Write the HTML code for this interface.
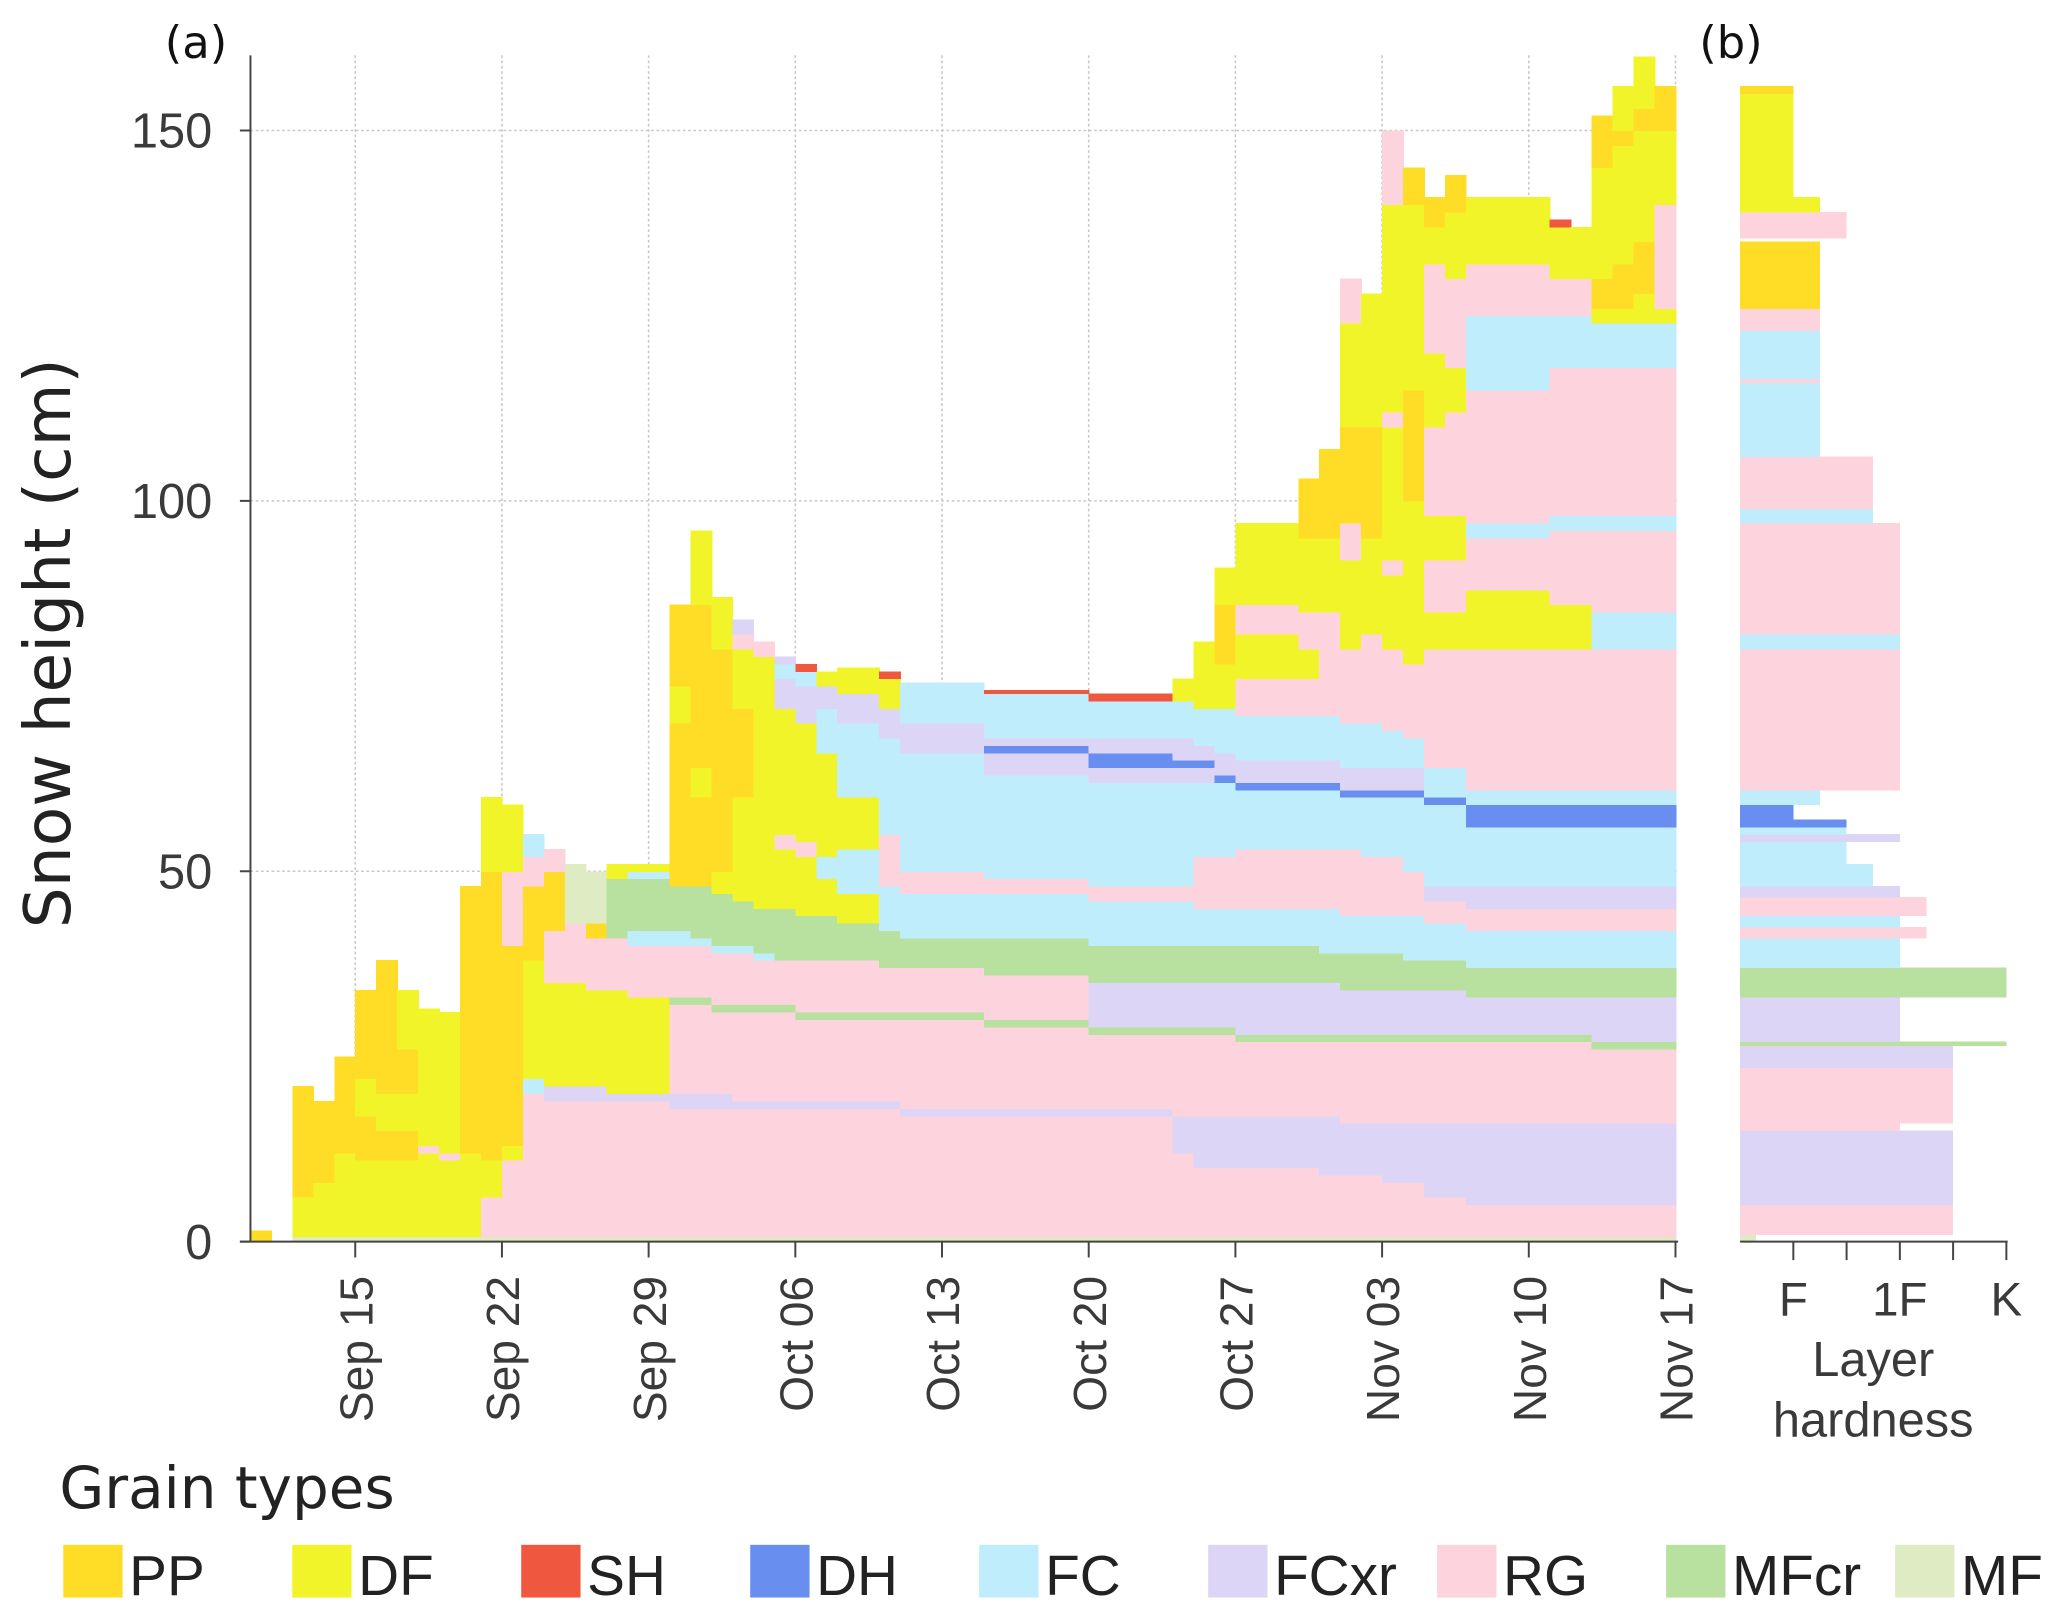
<!DOCTYPE html>
<html><head><meta charset="utf-8"><style>
html,body{margin:0;padding:0;background:#fff;}
svg{display:block;font-family:"Liberation Sans","DejaVu Sans",sans-serif;}
</style></head><body>
<svg id="chart" width="2067" height="1616" viewBox="0 0 1568 1226" preserveAspectRatio="none" xmlns="http://www.w3.org/2000/svg">
<g id="plotA"></g>
<g id="plotB"></g>
<g id="axes"></g>
<g id="legend"></g>
</svg>
<script>
const grainTypes = ["PP","DF","SH","DH","FC","FCxr","RG","MFcr","MF"];
const grainColors = ["#ffdc26","#f1f428","#f0573f","#688ef0","#bfedfb","#ddd5f5","#fdd3dd","#b8e1a0","#dfecc3"];
const dateLabels = ["Sep 15","Sep 22","Sep 29","Oct 06","Oct 13","Oct 20","Oct 27","Nov 03","Nov 10","Nov 17"];
const dateDays = [5,12,19,26,33,40,47,54,61,68];
const yTicks = [0,50,100,150];
const colStart = [0,2,3,4,5,6,7,8,9,10,11,12,13,14,15,16,17,18,20,21,22,23,24,25,26,27,28,30,31,35,40,44,45,46,47,50,51,52,53,54,55,56,57,58,62,63,64,65,66,67];
const colEnd   = [1,3,4,5,6,7,8,9,10,11,12,13,14,15,16,17,18,20,21,22,23,24,25,26,27,28,30,31,35,40,44,45,46,47,50,51,52,53,54,55,56,57,58,62,63,64,65,66,67,68];
const profiles = [
"PP:1.5",
"DF:6,PP:21",
"DF:8,PP:19",
"DF:12,PP:25",
"DF:11,PP:17,DF:22,PP:34",
"DF:11,PP:15,DF:20,PP:38",
"DF:11,PP:15,DF:20,PP:26,DF:34",
"DF:12,RG:13,DF:31.5",
"DF:11,RG:12,DF:31",
"DF:12,PP:48",
"RG:6,DF:11,PP:50,DF:60",
"RG:11,DF:13,PP:40,RG:50,DF:59",
"RG:20,FC:22,DF:38,PP:48,RG:52,FC:55",
"RG:19,FCxr:21,DF:35,RG:42,PP:50,RG:53",
"RG:19,FCxr:21,DF:35,RG:43,MF:51",
"RG:19,FCxr:21,DF:34,RG:41,PP:43,MF:50",
"RG:19,FCxr:20,DF:34,RG:41,MFcr:49,DF:51",
"RG:19,FCxr:20,DF:33,RG:40,FC:42,MFcr:49,FC:50,DF:51",
"RG:18,FCxr:20,RG:32,MFcr:33,RG:40,FC:42,MFcr:48,PP:70,DF:75,PP:86",
"RG:18,FCxr:20,RG:32,MFcr:33,RG:40,FC:41,MFcr:48,PP:60,DF:64,PP:86,DF:96",
"RG:18,FCxr:20,RG:31,MFcr:32,RG:39,FC:40,MFcr:47,DF:50,PP:80,DF:87",
"RG:18,FCxr:19,RG:31,MFcr:32,RG:39,FC:40,MFcr:46,DF:60,PP:72,DF:80,RG:82,FCxr:84",
"RG:18,FCxr:19,RG:31,MFcr:32,RG:38,FC:39,MFcr:45,DF:79,RG:81",
"RG:18,FCxr:19,RG:31,MFcr:32,RG:38,MFcr:45,DF:53,RG:55,DF:72,FCxr:76,FC:78,FCxr:79",
"RG:18,FCxr:19,RG:30,MFcr:31,RG:38,MFcr:44,DF:52,RG:54,DF:70,FCxr:75,FC:77,SH:78",
"RG:18,FCxr:19,RG:30,MFcr:31,RG:38,MFcr:44,DF:49,FC:52,DF:66,FC:72,FCxr:75,DF:77",
"RG:18,FCxr:19,RG:30,MFcr:31,RG:38,MFcr:43,DF:47,FC:53,DF:60,FC:70,FCxr:74,DF:77.5",
"RG:18,FCxr:19,RG:30,MFcr:31,RG:37,MFcr:42,FC:48,RG:55,FC:68,FCxr:72,DF:76,SH:77",
"RG:17,FCxr:18,RG:30,MFcr:31,RG:37,MFcr:41,FC:47,RG:50,FC:66,FCxr:70,FC:75.5",
"RG:17,FCxr:18,RG:29,MFcr:30,RG:36,MFcr:41,FC:47,RG:49,FC:63,FCxr:66,DH:67,FCxr:68,FC:74,SH:74.5",
"RG:17,FCxr:18,RG:28,MFcr:29,FCxr:35,MFcr:40,FC:46,RG:48,FC:62,FCxr:64,DH:66,FCxr:68,FC:73,SH:74",
"RG:12,FCxr:17,RG:28,MFcr:29,FCxr:35,MFcr:40,FC:46,RG:48,FC:62,FCxr:64,DH:65,FCxr:68,FC:73,DF:76",
"RG:10,FCxr:17,RG:28,MFcr:29,FCxr:35,MFcr:40,FC:45,RG:52,FC:62,FCxr:64,DH:65,FCxr:67,FC:72,DF:81",
"RG:10,FCxr:17,RG:28,MFcr:29,FCxr:35,MFcr:40,FC:45,RG:52,FC:62,DH:63,FCxr:66,FC:72,DF:78,PP:86,DF:91",
"RG:10,FCxr:17,RG:27,MFcr:28,FCxr:35,MFcr:40,FC:45,RG:53,FC:61,DH:62,FCxr:65,FC:71,RG:76,DF:82,RG:86,DF:97",
"RG:10,FCxr:17,RG:27,MFcr:28,FCxr:35,MFcr:40,FC:45,RG:53,FC:61,DH:62,FCxr:65,FC:71,RG:76,DF:80,RG:85,DF:95,PP:103",
"RG:9,FCxr:17,RG:27,MFcr:28,FCxr:35,MFcr:39,FC:45,RG:53,FC:61,DH:62,FCxr:65,FC:71,RG:78,RG:85,DF:95,PP:107",
"RG:9,FCxr:16,RG:27,MFcr:28,FCxr:34,MFcr:39,FC:44,RG:53,FC:60,DH:61,FCxr:64,FC:70,RG:80,DF:92,RG:97,PP:110,DF:124,RG:130",
"RG:9,FCxr:16,RG:27,MFcr:28,FCxr:34,MFcr:39,FC:44,RG:52,FC:60,DH:61,FCxr:64,FC:70,RG:82,DF:95,PP:110,DF:128",
"RG:8,FCxr:16,RG:27,MFcr:28,FCxr:34,MFcr:39,FC:44,RG:52,FC:60,DH:61,FCxr:64,FC:69,RG:80,DF:90,RG:92,DF:110,RG:112,DF:140,RG:150",
"RG:8,FCxr:16,RG:27,MFcr:28,FCxr:34,MFcr:38,FC:44,RG:50,FC:60,DH:61,FCxr:64,FC:68,RG:78,DF:100,PP:115,DF:140,PP:145",
"RG:6,FCxr:16,RG:27,MFcr:28,FCxr:34,MFcr:38,FC:43,RG:46,FCxr:48,FC:59,DH:60,FC:64,RG:80,DF:85,RG:92,DF:98,RG:110,DF:120,RG:132,DF:137,PP:141",
"RG:6,FCxr:16,RG:27,MFcr:28,FCxr:34,MFcr:38,FC:43,RG:46,FCxr:48,FC:59,DH:60,FC:64,RG:80,DF:85,RG:92,DF:98,RG:112,DF:118,RG:130,DF:139,PP:144",
"RG:5,FCxr:16,RG:27,MFcr:28,FCxr:33,MFcr:37,FC:42,RG:45,FCxr:48,FC:56,DH:59,FC:61,RG:80,DF:88,RG:95,FC:97,RG:115,FC:125,RG:132,DF:141",
"RG:5,FCxr:16,RG:27,MFcr:28,FCxr:33,MFcr:37,FC:42,RG:45,FCxr:48,FC:56,DH:59,FC:61,RG:80,DF:86,RG:96,FC:98,RG:118,FC:125,RG:130,DF:137,SH:138",
"RG:5,FCxr:16,RG:27,MFcr:28,FCxr:33,MFcr:37,FC:42,RG:45,FCxr:48,FC:56,DH:59,FC:61,RG:80,DF:86,RG:96,FC:98,RG:118,FC:125,RG:130,DF:137",
"RG:5,FCxr:16,RG:26,MFcr:27,FCxr:33,MFcr:37,FC:42,RG:45,FCxr:48,FC:56,DH:59,FC:61,RG:80,FC:85,RG:96,FC:98,RG:118,FC:124,DF:126,PP:130,DF:145,PP:152",
"RG:5,FCxr:16,RG:26,MFcr:27,FCxr:33,MFcr:37,FC:42,RG:45,FCxr:48,FC:56,DH:59,FC:61,RG:80,FC:85,RG:96,FC:98,RG:118,FC:124,DF:126,PP:132,DF:148,PP:150,DF:156",
"RG:5,FCxr:16,RG:26,MFcr:27,FCxr:33,MFcr:37,FC:42,RG:45,FCxr:48,FC:56,DH:59,FC:61,RG:80,FC:85,RG:96,FC:98,RG:118,FC:124,DF:128,PP:135,DF:150,PP:153,DF:160",
"RG:5,FCxr:16,RG:26,MFcr:27,FCxr:33,MFcr:37,FC:42,RG:45,FCxr:48,FC:56,DH:59,FC:61,RG:80,FC:85,RG:96,FC:98,RG:118,FC:124,DF:126,RG:140,DF:150,PP:156"
];
// panel b: type, bottom, top, hardness index (0..5)
const hardType = ["MF","RG","FCxr","RG","RG","FCxr","MFcr","FCxr","MFcr","FC","RG","FC","RG","FCxr","FC","FC","FCxr","FC","DH","DH","FC","RG","FC","RG","FC","RG","RG","FC","RG","RG","FC","RG","PP","RG","DF","DF","PP"];
const hardBot  = [0,1,5,15,16,23.5,26.5,27,33,37,41,42.5,44,46.5,48,51,54,55,56,57,59,61,80,82,97,99,100,106,116,123,116.5,123,126,135.5,139,141,155];
const hardTop  = [1,5,15,16,23.5,26.5,27,33,37,41,42.5,44,46.5,48,51,54,55,56,57,59,61,80,82,97,99,100,106,116,116.5,126,123,126,135,139,141,155,156];
const hardVal  = [0.3,4,4,3,4,4,5,3,5,3,3.5,3,3.5,3,2.5,2,3,2,2,1,1.5,3,3,3,2.5,2.5,2.5,1.5,1.5,1.5,1.5,1.5,1.5,2,1.5,1,1];
const hardTicks = [1,2,3,4,5];
const hardLabels = ["F","","1F","","K"];
const legendNames = grainTypes;

const NS="http://www.w3.org/2000/svg";
function mk(tag, attrs, parent){const e=document.createElementNS(NS,tag);for(const k in attrs)e.setAttribute(k,attrs[k]);parent.appendChild(e);return e;}
const X0=190, DAYW=(1271-190)/68, Y0=942, CM=(942-99)/150;
const xDay = d => X0 + d*DAYW;
const yCm = h => Y0 - h*CM;
const BX0=1320, HW=(1522-1320)/5;
const xHard = v => BX0 + v*HW;
const colorOf = t => grainColors[grainTypes.indexOf(t)];

const gA=document.getElementById('plotA'), gB=document.getElementById('plotB'), gX=document.getElementById('axes'), gL=document.getElementById('legend');

for (let i=0;i<yTicks.length;i++){ if(yTicks[i]===0) continue;
  const l=mk('line',{x1:X0,x2:1272,y1:yCm(yTicks[i]),y2:yCm(yTicks[i]),stroke:'#c8c8c8','stroke-width':1.2,'stroke-dasharray':'2,2'},gA);
  
  
}
for (let i=0;i<dateDays.length;i++){
  const l=mk('line',{x1:xDay(dateDays[i]),x2:xDay(dateDays[i]),y1:42,y2:Y0,stroke:'#c8c8c8','stroke-width':1.2,'stroke-dasharray':'2,2'},gA);
  
  
}
for (let c=0;c<profiles.length;c++){
  let bot=0;
  const segs=profiles[c].split(',');
  for (const s of segs){
    const [t,v]=s.split(':'); const top=parseFloat(v);
    if(top>bot){
      const r=mk('rect',{x:xDay(colStart[c]),y:yCm(top),width:xDay(colEnd[c])-xDay(colStart[c])+0.6,height:(top-bot)*CM+0.4,fill:colorOf(t),'shape-rendering':'crispEdges'},gA);
      
      
    }
    bot=Math.max(bot,top);
  }
}
const gs=mk('rect',{x:xDay(2),y:yCm(0.6),width:xDay(68)-xDay(2),height:0.6*CM,fill:colorOf('MF')},gA);



for (let i=0;i<hardType.length;i++){
  const r=mk('rect',{x:BX0,y:yCm(hardTop[i]),width:xHard(hardVal[i])-BX0,height:(hardTop[i]-hardBot[i])*CM+0.4,fill:colorOf(hardType[i]),'shape-rendering':'crispEdges'},gB);
  
  
}

const ya=mk('line',{x1:X0,x2:X0,y1:42,y2:Y0,stroke:'#444','stroke-width':1.5},gX);


const xa=mk('line',{x1:X0-8,x2:1273,y1:Y0,y2:Y0,stroke:'#444','stroke-width':1.5},gX);


for (let i=0;i<yTicks.length;i++){
  const tk=mk('line',{x1:X0-8,x2:X0,y1:yCm(yTicks[i]),y2:yCm(yTicks[i]),stroke:'#444','stroke-width':1.5},gX);
  
  
  const t=mk('text',{x:X0-29,y:yCm(yTicks[i])+13,'text-anchor':'end','font-size':37,fill:'#3a3a3a'},gX);
  t.textContent=yTicks[i];
  
  
}
for (let i=0;i<dateDays.length;i++){
  const x=xDay(dateDays[i]);
  const tk=mk('line',{x1:x,x2:x,y1:Y0,y2:Y0+12,stroke:'#444','stroke-width':1.5},gX);
  
  
  const t=mk('text',{x:0,y:0,'text-anchor':'end','font-size':35,fill:'#3a3a3a',transform:`translate(${x+13},968) rotate(-90)`},gX);
  t.textContent=dateLabels[i];
  
  
}
const yl=mk('text',{x:0,y:0,'text-anchor':'middle','font-size':49,fill:'#222','font-family':'DejaVu Sans, sans-serif',transform:'translate(53,488) rotate(-90)'},gX);
yl.textContent='Snow height (cm)';


const pa=mk('text',{x:125,y:44,'font-size':34,fill:'#111','font-family':'DejaVu Sans, sans-serif'},gX);
pa.textContent='(a)';


const pb=mk('text',{x:1289,y:44,'font-size':34,fill:'#111','font-family':'DejaVu Sans, sans-serif'},gX);
pb.textContent='(b)';


const bx=mk('line',{x1:BX0,x2:1523,y1:Y0,y2:Y0,stroke:'#444','stroke-width':1.5},gX);


for (let i=0;i<hardTicks.length;i++){
  const x=xHard(hardTicks[i]);
  const tk=mk('line',{x1:x,x2:x,y1:Y0,y2:Y0+14,stroke:'#444','stroke-width':1.5},gX);
  
  
  if(hardLabels[i]){
    const t=mk('text',{x:x,y:998,'text-anchor':'middle','font-size':36,fill:'#3a3a3a'},gX);
    t.textContent=hardLabels[i];
    
    
  }
}
const h1=mk('text',{x:1421,y:1044,'text-anchor':'middle','font-size':37,fill:'#3a3a3a'},gX);
h1.textContent='Layer';


const h2=mk('text',{x:1421,y:1090,'text-anchor':'middle','font-size':37,fill:'#3a3a3a'},gX);
h2.textContent='hardness';



const lt=mk('text',{x:45,y:1144,'font-size':44,fill:'#222','font-family':'DejaVu Sans, sans-serif'},gL);
lt.textContent='Grain types';


for (let i=0;i<legendNames.length;i++){
  const x=48+i*173.7;
  const g=mk('g',{},gL);
  
  
  mk('rect',{x:x,y:1172,width:45,height:40,fill:grainColors[i]},g);
  const t=mk('text',{x:x+50,y:1210,'font-size':43,fill:'#222'},g);
  t.textContent=legendNames[i];
}
</script>
</body></html>
